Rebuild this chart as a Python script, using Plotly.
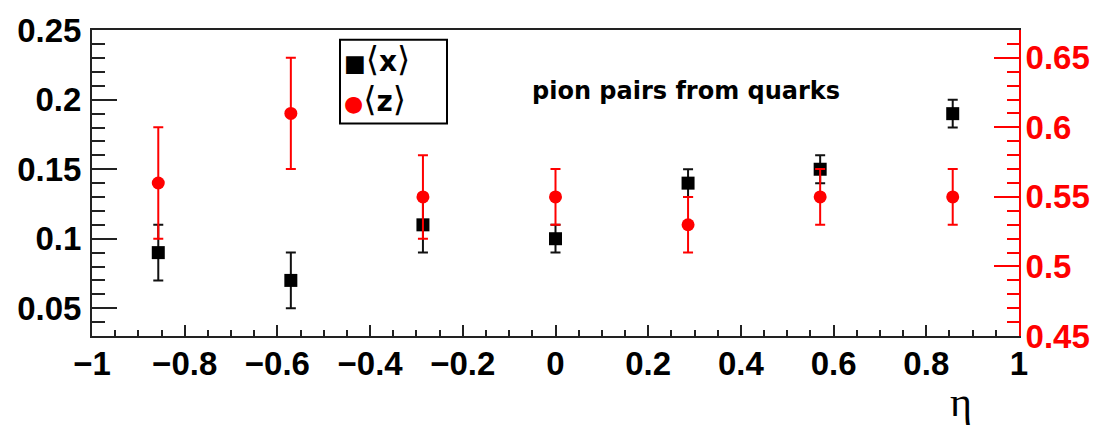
import plotly.graph_objects as go

# ---- data ----
eta_bins = [-0.857, -0.571, -0.286, 0.0, 0.286, 0.571, 0.857]
mean_x = [0.09, 0.07, 0.11, 0.10, 0.14, 0.15, 0.19]
mean_x_err = [0.02, 0.02, 0.02, 0.01, 0.01, 0.01, 0.01]
mean_z = [0.56, 0.61, 0.55, 0.55, 0.53, 0.55, 0.55]
mean_z_err = [0.04, 0.04, 0.03, 0.02, 0.02, 0.02, 0.02]

W, H = 1104, 425
L, R, T, B = 92, 1019, 25, 336


def px(xp):
    return (xp - L) / (R - L)


def py(yp):
    return (B - yp) / (B - T)


fig = go.Figure()
fig.add_trace(go.Scatter(
    x=eta_bins, y=mean_x, mode="markers", name="<x>",
    marker=dict(symbol="square", size=13, color="black"),
    error_y=dict(type="data", array=mean_x_err, color="#111111", thickness=2, width=5),
    yaxis="y", showlegend=False))
fig.add_trace(go.Scatter(
    x=eta_bins, y=mean_z, mode="markers", name="<z>",
    marker=dict(symbol="circle", size=13, color="#ff0000"),
    error_y=dict(type="data", array=mean_z_err, color="#ff0000", thickness=2, width=5),
    yaxis="y2", showlegend=False))

tickfont = dict(family="Liberation Sans, Arial", size=33, color="black", weight="bold")

fig.update_layout(
    width=W, height=H,
    margin=dict(l=L, r=W - R, t=T, b=H - B, pad=0),
    paper_bgcolor="white", plot_bgcolor="white",
    showlegend=False,
    xaxis=dict(range=[-1, 1], tick0=-1, dtick=0.2, ticks="inside", ticklen=11, tickwidth=2,
               tickcolor="#222222", showline=True, linecolor="#222222", linewidth=2, mirror=True,
               showgrid=False, zeroline=False, tickfont=tickfont, ticklabelstandoff=-3,
               minor=dict(dtick=0.05, tick0=-1, ticks="inside", ticklen=6, tickwidth=2,
                          tickcolor="#222222", showgrid=False)),
    yaxis=dict(range=[0.03, 0.2502], tick0=0.05, dtick=0.05, ticks="inside", ticklen=25, tickwidth=2,
               tickcolor="#222222", showline=True, linecolor="#222222", linewidth=2,
               showgrid=False, zeroline=False, tickfont=tickfont, ticklabelstandoff=2,
               minor=dict(dtick=0.01, tick0=0.05, ticks="inside", ticklen=13, tickwidth=2,
                          tickcolor="#222222", showgrid=False)),
    yaxis2=dict(range=[0.45, 0.67], tick0=0.45, dtick=0.05, ticks="inside", ticklen=25, tickwidth=2,
                tickcolor="#ff0000", showline=True, linecolor="#ff0000", linewidth=2,
                overlaying="y", side="right", showgrid=False, zeroline=False,
                tickfont=dict(family="Liberation Sans, Arial", size=33, color="#ff0000", weight="bold"),
                ticklabelstandoff=-2,
                minor=dict(dtick=0.01, tick0=0.45, ticks="inside", ticklen=12, tickwidth=2,
                           tickcolor="#ff0000", showgrid=False)),
)

# legend box
fig.add_shape(type="rect", xref="paper", yref="paper",
              x0=px(340), x1=px(447), y0=py(120), y1=py(35),
              line=dict(color="black", width=2), fillcolor="white", layer="above")
fig.add_annotation(xref="paper", yref="paper", x=px(342), y=py(54), xanchor="left", yanchor="middle",
                   text="<span style='color:black;font-size:23px'>■</span>"
                        "<span style='font-size:34px'>⟨</span><b>x</b><span style='font-size:34px'>⟩</span>",
                   showarrow=False,
                   font=dict(family="DejaVu Sans", size=28, color="black"))
fig.add_annotation(xref="paper", yref="paper", x=px(342), y=py(95), xanchor="left", yanchor="middle",
                   text="<span style='color:#ff0000;font-size:22px'>●</span>"
                        "<span style='font-size:34px'>⟨</span><b>z</b><span style='font-size:34px'>⟩</span>",
                   showarrow=False,
                   font=dict(family="DejaVu Sans", size=28, color="black"))

# text label
fig.add_annotation(xref="paper", yref="paper", x=px(530), y=py(87), xanchor="left", yanchor="middle",
                   text="<b>pion pairs from quarks</b>", showarrow=False,
                   font=dict(family="DejaVu Sans", size=24, color="black"))

# axis title eta
fig.add_annotation(xref="paper", yref="paper", x=px(974), y=py(403), xanchor="right", yanchor="middle",
                   text="η", showarrow=False,
                   font=dict(family="Liberation Serif", size=42, color="black"))

fig.write_html("out.html")
